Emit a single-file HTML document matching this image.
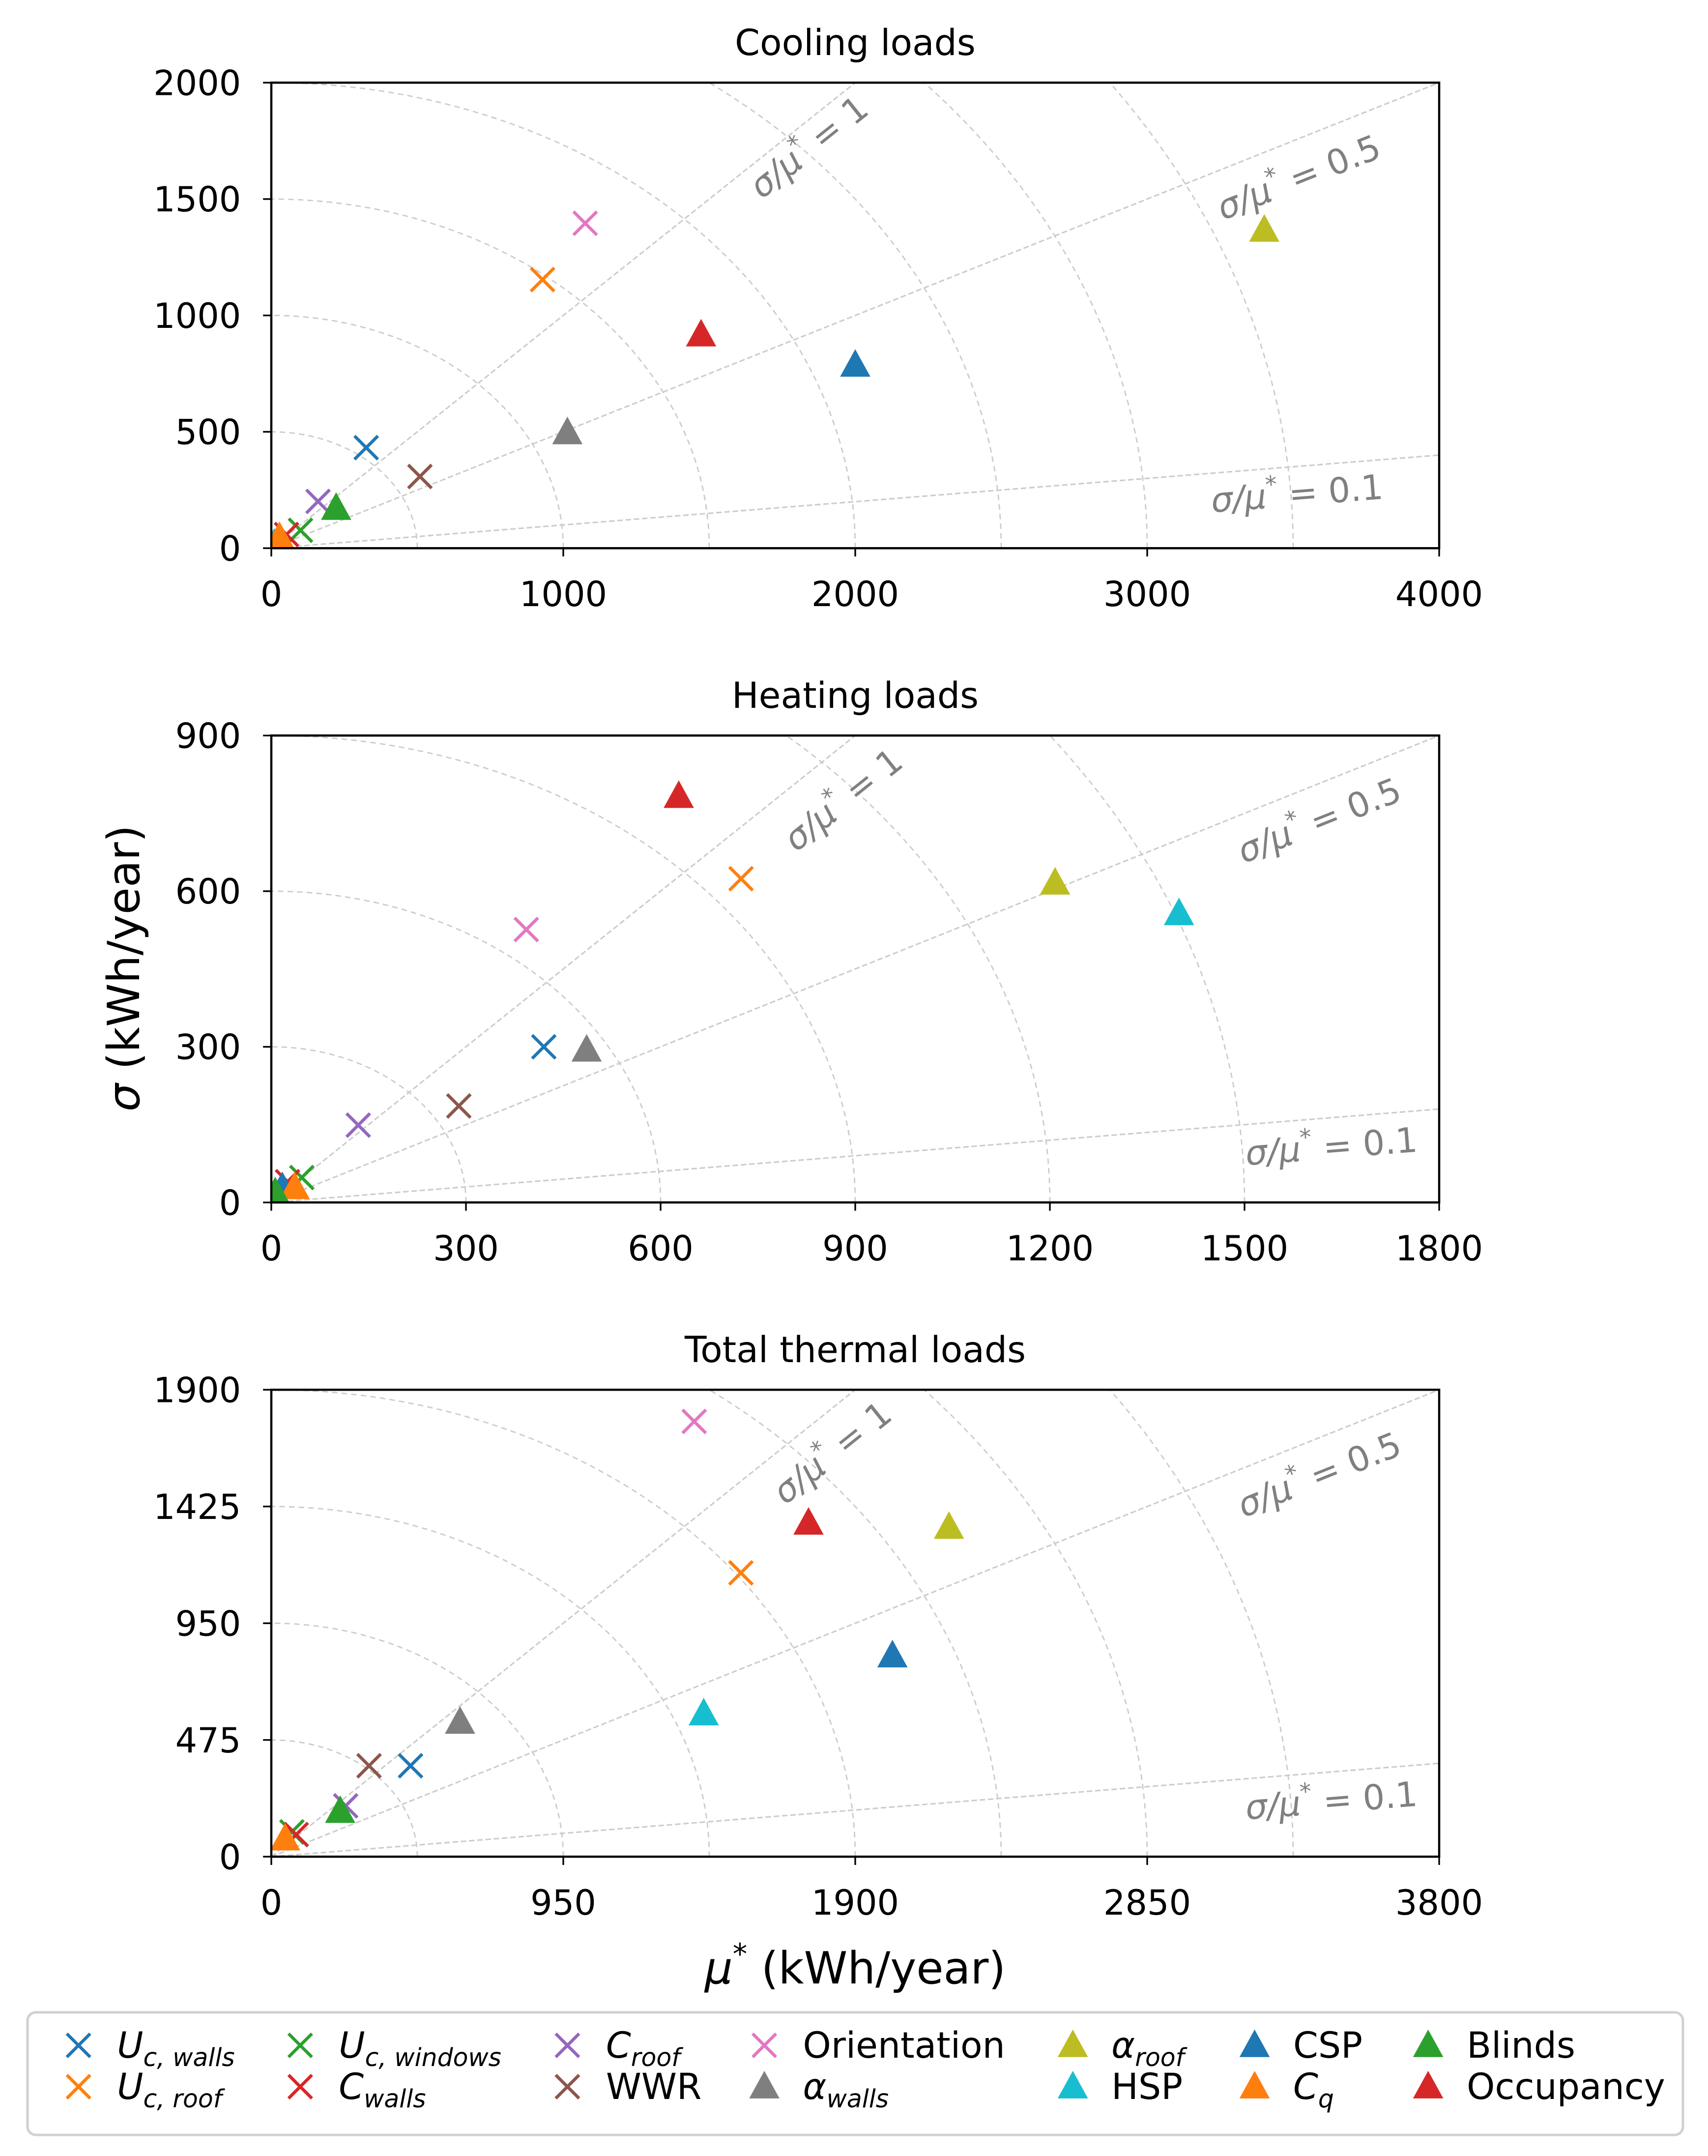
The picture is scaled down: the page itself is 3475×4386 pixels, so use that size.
<!DOCTYPE html>
<html><head><meta charset="utf-8"><style>
html,body{margin:0;padding:0;background:#fff;}
svg{display:block;font-family:"DejaVu Sans","Liberation Sans",sans-serif;}
</style></head>
<body>
<svg id="fig" width="3475" height="4386" viewBox="0 0 1240.2 1565.3" xmlns="http://www.w3.org/2000/svg"></svg>
<script>
// Series order: Uc_walls, Uc_roof, Uc_windows, C_walls, C_roof, WWR, Orientation, a_walls, a_roof, HSP, CSP, Cq, Blinds, Occupancy
const seriesNames = ["Uc,walls","Uc,roof","Uc,windows","Cwalls","Croof","WWR","Orientation","αwalls","αroof","HSP","CSP","Cq","Blinds","Occupancy"];
const seriesMarkers = ["x","x","x","x","x","x","x","t","t","t","t","t","t","t"];
const seriesColors = ["#1f77b4","#ff7f0e","#2ca02c","#d62728","#9467bd","#8c564b","#e377c2","#7f7f7f","#bcbd22","#17becf","#1f77b4","#ff7f0e","#2ca02c","#d62728"];

const coolingMu    = [325, 929, 100, 52, 160, 509, 1075, 1014, 3401, 10, 2000, 28, 222, 1472];
const coolingSigma = [432, 1154, 77, 59, 201, 308, 1396, 497, 1367, 18, 787, 47, 172, 917];
const heatingMu    = [420, 724, 47, 25, 134, 289, 393, 486, 1208, 1399, 17, 36, 6, 628];
const heatingSigma = [300, 624, 48, 40, 149, 186, 526, 294, 616, 557, 29, 29, 19, 783];
const totalMu      = [453, 1528, 67, 81, 242, 318, 1376, 614, 2205, 1407, 2021, 45, 224, 1748];
const totalSigma   = [370, 1155, 101, 90, 207, 370, 1771, 548, 1341, 582, 818, 73, 185, 1358];

const coolingXTicks = [0,1000,2000,3000,4000];
const coolingYTicks = [0,500,1000,1500,2000];
const heatingXTicks = [0,300,600,900,1200,1500,1800];
const heatingYTicks = [0,300,600,900];
const totalXTicks   = [0,950,1900,2850,3800];
const totalYTicks   = [0,475,950,1425,1900];
const ratioValues   = [1, 0.5, 0.1];

const NS="http://www.w3.org/2000/svg";
const svg=document.getElementById('fig');
function mk(tag,attrs,parent){const e=document.createElementNS(NS,tag);for(const k in attrs)e.setAttribute(k,attrs[k]);(parent||svg).appendChild(e);return e;}

function drawMarker(g,type,color,x,y){
  if(type==="x"){
    return mk('path',{d:`M${x-8.5},${y-8.5}L${x+8.5},${y+8.5}M${x-8.5},${y+8.5}L${x+8.5},${y-8.5}`,stroke:color,'stroke-width':2.3,fill:'none'},g);
  } else {
    return mk('path',{d:`M${x},${y-11.5}L${x+11},${y+8.5}L${x-11},${y+8.5}Z`,fill:color},g);
  }
}

function panel(name,title,L,T,R,B,xmax,ymax,xt,yt,arcStep,arcN,mu,sig,labelPos){
  const g=mk('g',{});
  
  
  const sx=v=>L+(v/xmax)*(R-L);
  const sy=v=>B-(v/ymax)*(B-T);
  const clipId=name+'-clip';
  const cp=mk('clipPath',{id:clipId},g);mk('rect',{x:L,y:T,width:R-L,height:B-T},cp);
  const inner=mk('g',{'clip-path':`url(#${clipId})`},g);
  for(let k=1;k<=arcN;k++){
    const r=k*arcStep;let d='';
    for(let i=0;i<=90;i++){const a=i*Math.PI/180;d+=(i?'L':'M')+sx(r*Math.cos(a)).toFixed(2)+','+sy(r*Math.sin(a)).toFixed(2);}
    const arc=mk('path',{d,stroke:'#cccccc','stroke-width':1,fill:'none','stroke-dasharray':'4,3'},inner);
    
    
  }
  ratioValues.forEach((rv,i)=>{
    const ln=mk('line',{x1:sx(0),y1:sy(0),x2:sx(xmax),y2:sy(xmax*rv),stroke:'#cccccc','stroke-width':1.1,'stroke-dasharray':'4,2'},inner);
    
    
    const ang=-Math.atan(((B-T)/ymax*rv)/((R-L)/xmax))*180/Math.PI;
    const [lx,ly]=labelPos[i];
    const t=mk('text',{x:lx,y:ly,'font-size':25,fill:'#808080','font-style':'italic',transform:`rotate(${ang.toFixed(2)} ${lx} ${ly})`},g);
    
    
    t.innerHTML=`σ/μ<tspan dy="-11" font-size="17">*</tspan><tspan dy="11" font-style="normal"> = ${rv}</tspan>`;
  });
  const pg=mk('g',{'clip-path':`url(#${clipId})`},g);
  mu.forEach((m,i)=>{
    const el=drawMarker(pg,seriesMarkers[i],seriesColors[i],sx(m),sy(sig[i]));
    
    
  });
  const fr=mk('rect',{x:L,y:T,width:R-L,height:B-T,fill:'none',stroke:'#000','stroke-width':1.6},g);
  
  
  xt.forEach(v=>{
    mk('line',{x1:sx(v),y1:B,x2:sx(v),y2:B+6,stroke:'#000','stroke-width':1.2},g);
    const t=mk('text',{x:sx(v),y:B+42,'font-size':25,'text-anchor':'middle',fill:'#000'},g);
    
    
    t.textContent=v;
  });
  yt.forEach(v=>{
    mk('line',{x1:L-6,y1:sy(v),x2:L,y2:sy(v),stroke:'#000','stroke-width':1.2},g);
    const t=mk('text',{x:L-22,y:sy(v)+9,'font-size':25,'text-anchor':'end',fill:'#000'},g);
    
    
    t.textContent=v;
  });
  const tt=mk('text',{x:(L+R)/2,y:T-20,'font-size':26,'text-anchor':'middle',fill:'#000'},g);
  
  
  tt.textContent=title;
}

panel('cooling','Cooling loads',197,60,1045,398,4000,2000,coolingXTicks,coolingYTicks,500,7,coolingMu,coolingSigma,[[553,145],[888,160],[880,372]]);
panel('heating','Heating loads',197,534,1045,873,1800,900,heatingXTicks,heatingYTicks,300,5,heatingMu,heatingSigma,[[578,619],[903,627],[905,846]]);
panel('total','Total thermal loads',197,1009,1045,1348,3800,1900,totalXTicks,totalYTicks,475,7,totalMu,totalSigma,[[570,1093],[903,1102],[905,1321]]);

const yl=mk('text',{x:0,y:0,'font-size':32,'text-anchor':'middle',transform:'translate(101,703) rotate(-90)'});


yl.innerHTML='<tspan font-style="italic">σ</tspan> (kWh/year)';
const xl=mk('text',{x:621,y:1440,'font-size':32,'text-anchor':'middle'});


xl.innerHTML='<tspan font-style="italic">μ</tspan><tspan dy="-14" font-size="21">*</tspan><tspan dy="14"> (kWh/year)</tspan>';

const lg=mk('g',{});


mk('rect',{x:20,y:1461,width:1202,height:89,rx:6,fill:'#fff',stroke:'#d0d0d0','stroke-width':1.8},lg);
const legendPos=[[57,1485],[57,1515],[218,1485],[218,1515],[412,1485],[412,1515],[555,1485],[555,1515],[779,1485],[779,1515],[911,1485],[911,1515],[1037,1485],[1037,1515]];
const legendHTML=[
 '<tspan font-style="italic">U</tspan><tspan font-style="italic" font-size="18" dy="6">c, walls</tspan>',
 '<tspan font-style="italic">U</tspan><tspan font-style="italic" font-size="18" dy="6">c, roof</tspan>',
 '<tspan font-style="italic">U</tspan><tspan font-style="italic" font-size="18" dy="6">c, windows</tspan>',
 '<tspan font-style="italic">C</tspan><tspan font-style="italic" font-size="18" dy="6">walls</tspan>',
 '<tspan font-style="italic">C</tspan><tspan font-style="italic" font-size="18" dy="6">roof</tspan>',
 'WWR','Orientation',
 '<tspan font-style="italic">α</tspan><tspan font-style="italic" font-size="18" dy="6">walls</tspan>',
 '<tspan font-style="italic">α</tspan><tspan font-style="italic" font-size="18" dy="6">roof</tspan>',
 'HSP','CSP',
 '<tspan font-style="italic">C</tspan><tspan font-style="italic" font-size="18" dy="6">q</tspan>',
 'Blinds','Occupancy'];
seriesNames.forEach((n,i)=>{
  const [x,y]=legendPos[i];
  const it=mk('g',{},lg);
  
  
  drawMarker(it,seriesMarkers[i],seriesColors[i],x,y);
  const t=mk('text',{x:x+28,y:y+9,'font-size':26,fill:'#000'},it);
  t.innerHTML=legendHTML[i];
});
</script>
</body></html>
